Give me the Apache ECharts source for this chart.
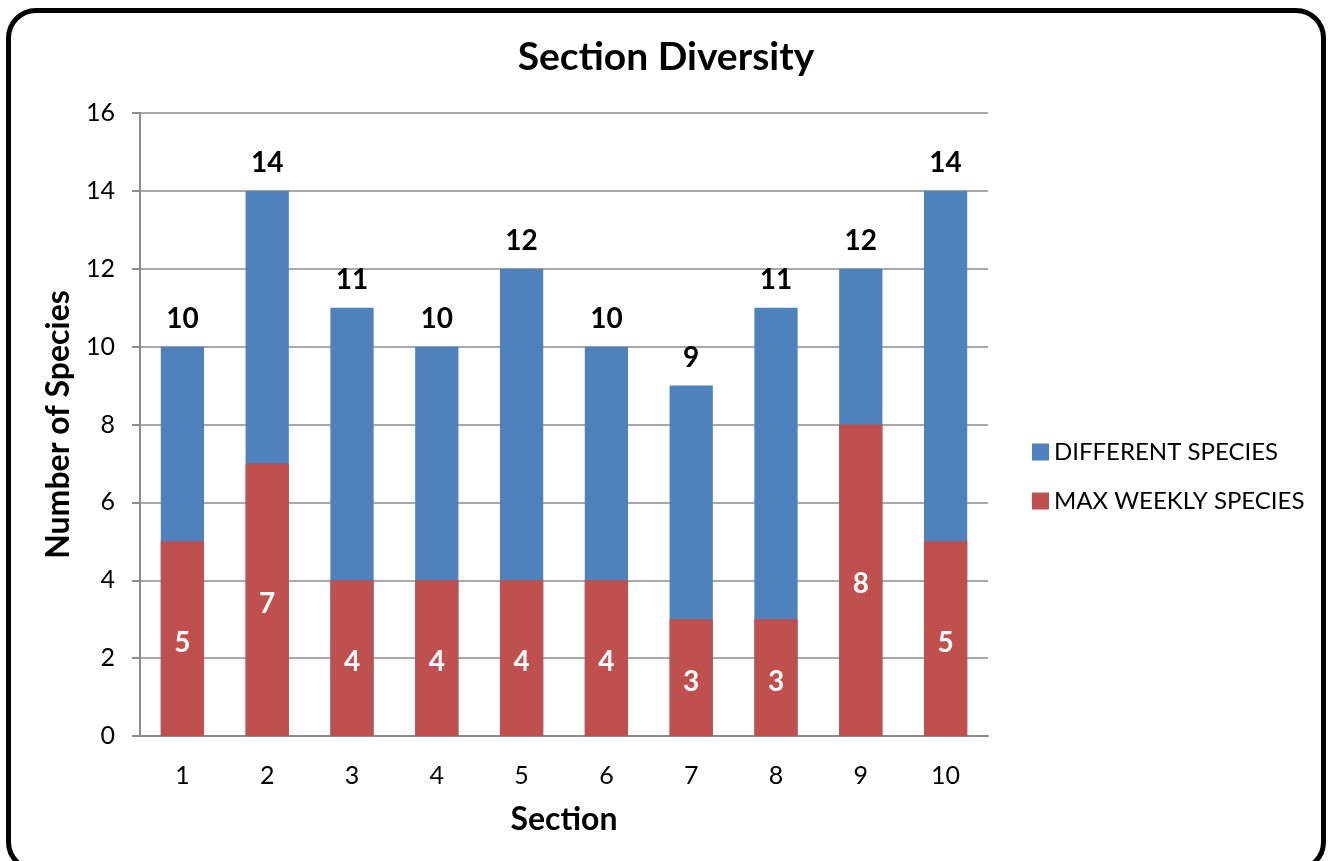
<!DOCTYPE html>
<html>
<head>
<meta charset="utf-8">
<script src="https://cdn.jsdelivr.net/npm/echarts@6/dist/echarts.min.js"></script>
<style>
html,body{margin:0;padding:0;background:#fff;overflow:hidden;}
#frame{position:absolute;left:6px;top:8px;width:1320px;height:864px;border:5px solid #000;border-radius:30px;box-sizing:border-box;background:#fff;}
#chart{position:absolute;left:0;top:0;width:1332px;height:861px;}
</style>
</head>
<body>
<div id="frame"></div>
<div id="chart"></div>
<script>
const categories = ['1','2','3','4','5','6','7','8','9','10'];
const differentSpecies = [10,14,11,10,12,10,9,11,12,14];
const maxWeeklySpecies = [5,7,4,4,4,4,3,3,8,5];
const seriesNames = ['DIFFERENT SPECIES','MAX WEEKLY SPECIES'];

const FONT = 'Lato, "Open Sans", sans-serif';
const chart = echarts.init(document.getElementById('chart'), null, {renderer:'canvas'});
chart.setOption({
  backgroundColor: 'transparent',
  animation: false,
  title: {
    text: 'Section Diversity',
    left: 'center',
    top: 33,
    textStyle: {fontFamily: FONT, fontSize: 39, fontWeight: 'bold', color: '#000'}
  },
  legend: {
    orient: 'vertical',
    left: 1027,
    top: 435,
    itemWidth: 17,
    itemHeight: 17,
    itemGap: 25,
    icon: 'rect',
    data: seriesNames,
    textStyle: {fontFamily: FONT, fontSize: 24, color: '#000'}
  },
  grid: {left: 140, right: 344, top: 113, bottom: 125, containLabel: false},
  xAxis: {
    type: 'category',
    data: categories,
    name: 'Section',
    nameLocation: 'middle',
    nameGap: 68,
    nameTextStyle: {fontFamily: FONT, fontSize: 32, fontWeight: 'bold', color: '#000'},
    axisLine: {lineStyle: {color: '#8c8c8c', width: 2}},
    axisTick: {show: false},
    axisLabel: {fontFamily: FONT, fontSize: 25, color: '#000', margin: 27}
  },
  yAxis: {
    type: 'value',
    min: 0,
    max: 16,
    interval: 2,
    name: 'Number of Species',
    nameLocation: 'middle',
    nameGap: 64,
    nameTextStyle: {fontFamily: FONT, fontSize: 32, fontWeight: 'bold', color: '#000'},
    axisLine: {show: true, lineStyle: {color: '#8c8c8c', width: 2}},
    axisTick: {show: true, length: 8, lineStyle: {color: '#8c8c8c', width: 2}},
    splitLine: {lineStyle: {color: '#8c8c8c', width: 1.5}},
    axisLabel: {fontFamily: FONT, fontSize: 25, color: '#000', margin: 25}
  },
  series: [
    {
      name: seriesNames[0],
      type: 'bar',
      data: differentSpecies,
      barWidth: '51%',
      barGap: '-100%',
      itemStyle: {color: '#4F81BD'},
      label: {show: true, position: 'top', distance: 14, fontFamily: FONT, fontSize: 28, fontWeight: 'bold', color: '#000'}
    },
    {
      name: seriesNames[1],
      type: 'bar',
      data: maxWeeklySpecies,
      barWidth: '51%',
      barGap: '-100%',
      itemStyle: {color: '#C0504D'},
      label: {show: true, position: 'inside', offset: [0, 4], fontFamily: FONT, fontSize: 28, fontWeight: 'bold', color: '#fff'}
    }
  ]
});
</script>
</body>
</html>
